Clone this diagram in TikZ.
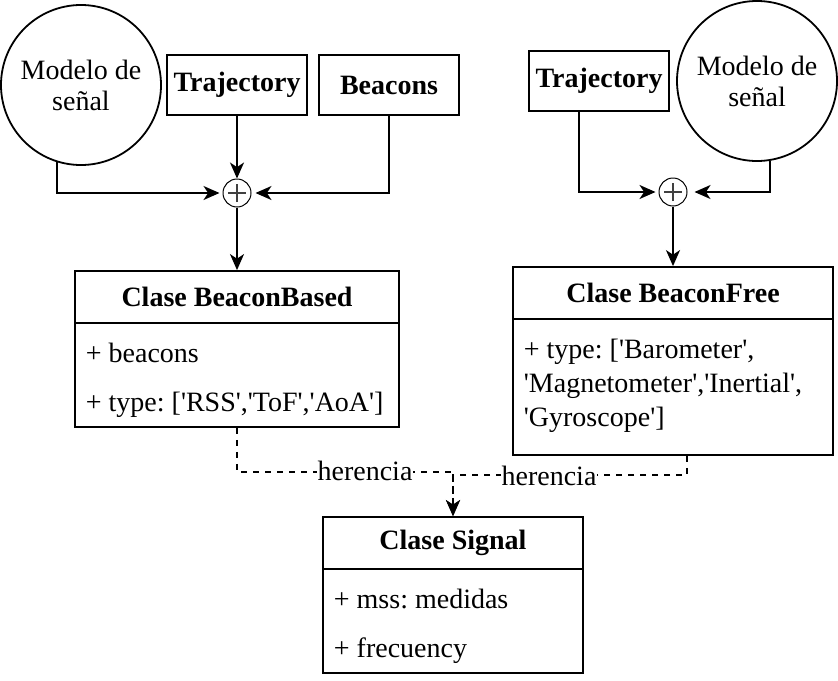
\documentclass[tikz,border=0pt]{standalone}
\usepackage{fontspec}
\setmainfont{Liberation Serif}[Ligatures=TeXOff]
\usetikzlibrary{arrows.meta}
\begin{document}
\frenchspacing
\begin{tikzpicture}[x=0.5pt,y=-0.5pt, line width=0.9pt,
  every node/.style={font=\fontsize{14}{17}\selectfont},
  circ/.style={draw,circle,minimum size=80pt,inner sep=0pt,align=center,font=\fontsize{14}{15.5}\selectfont},
  inbox/.style={draw,minimum width=70pt,minimum height=30pt,inner sep=0pt,font=\fontsize{14}{17}\selectfont\bfseries},
  head/.style={draw,minimum height=26pt,inner sep=0pt,font=\fontsize{14}{17}\selectfont\bfseries},
  body/.style={draw,inner sep=0pt},
  attr/.style={anchor=west,inner sep=0pt},
  plus/.style={draw,circle,line width=0.5pt,minimum size=14pt,inner sep=0pt,
    path picture={
      \draw[black!75,line width=0.6pt] ([xshift=-4.5pt]path picture bounding box.center) -- ([xshift=4.5pt]path picture bounding box.center);
      \draw[black!75,line width=0.6pt] ([yshift=-4.5pt]path picture bounding box.center) -- ([yshift=4.5pt]path picture bounding box.center);
    }},
  arr/.style={-{Stealth[length=8pt,width=7pt,inset=2.3pt]}},
  inh/.style={dashed,dash pattern=on 3pt off 3pt,-{Stealth[length=8pt,width=7pt,inset=2.3pt]}},
  lbl/.style={fill=white,inner sep=0.5pt}
]
\useasboundingbox (0,0) rectangle (838,680);

% left group
\node[circ] (mod1) at (81,85) {Modelo de\\señal};
\node[inbox] (traj1) at (237,85) {Trajectory};
\node[inbox] (beac) at (389,85) {Beacons};
\node[plus] (p1) at (237,193) {};

\node[head,minimum width=162pt] (bbhead) at (237,297) {Clase BeaconBased};
\node[body,minimum width=162pt,minimum height=52pt] (bbbody) at (237,375) {};
\node[attr] (bba1) at (85,353) {+ beacons};
\node[attr] (bba2) at (85,405) {+ type: ['RSS','ToF','AoA']};

% right group
\node[inbox] (traj2) at (599,81) {Trajectory};
\node[circ] (mod2) at (757,81) {Modelo de\\señal};
\node[plus] (p2) at (673,192) {};

\node[head,minimum width=160pt] (fbhead) at (673,293) {Clase BeaconFree};
\node[body,minimum width=160pt,minimum height=68pt] (fbbody) at (673,387) {};
\node[anchor=north west,inner sep=0pt,align=left] (fba) at (523,338) {+ type: ['Barometer',\\'Magnetometer','Inertial',\\'Gyroscope']};

% signal
\node[head,minimum width=130pt] (sighead) at (453,543) {Clase Signal};
\node[body,minimum width=130pt,minimum height=52pt] (sigbody) at (453,621) {};
\node[attr] (sa1) at (333,599) {+ mss: medidas};
\node[attr] (sa2) at (333,651) {+ frecuency};

% connectors left
\draw[arr] (mod1.-107.5) |- ([xshift=-1.5pt]p1.west);
\draw[arr] (traj1.south) -- (p1.north);
\draw[arr] (beac.south) |- ([xshift=2pt]p1.east);
\draw[arr] (p1.south) -- (bbhead.north);

% connectors right
\draw[arr] ([xshift=-10pt]traj2.south) |- ([xshift=-1.5pt]p2.west);
\draw[arr] (mod2.-81.4) |- ([xshift=3.5pt]p2.east);
\draw[arr] (p2.south) -- (fbhead.north);

% inheritance
\draw[inh] (bbbody.south) -- ++(0,44) -| (sighead.north);
\draw[inh] ([xshift=7pt]fbbody.south) -- ++(0,19) -| (sighead.north);
\node[lbl] (h1) at (365,471) {herencia};
\node[lbl] (h2) at (549,476) {herencia};
\end{tikzpicture}
\end{document}
